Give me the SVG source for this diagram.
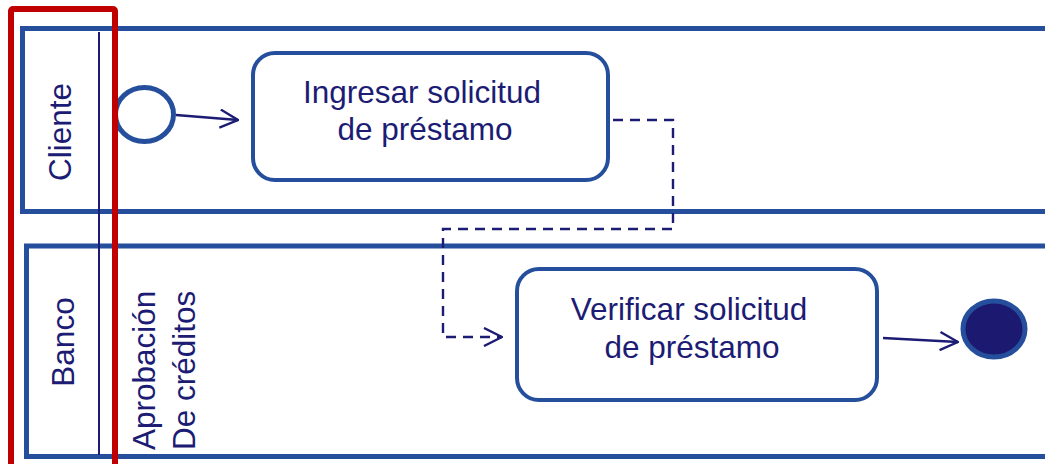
<svg xmlns="http://www.w3.org/2000/svg" width="1045" height="464" viewBox="0 0 1045 464">
<style>
.pool{fill:#ffffff;stroke:#254f9c;stroke-width:5}
.task{fill:#ffffff;stroke:#254f9c;stroke-width:4}
.txt{font-family:"Liberation Sans",Arial,sans-serif;font-size:31.5px;fill:#1c1c74}
.flow{fill:none;stroke:#1c1c74;stroke-width:2.4}
.msg{fill:none;stroke:#1c1c74;stroke-width:2.4;stroke-dasharray:10,7}
</style>
<defs>
<marker id="open" viewBox="0 0 20 20" refX="19" refY="10" markerWidth="20" markerHeight="20" markerUnits="userSpaceOnUse" orient="auto">
<path d="M1,1 L19,10 L1,19" fill="none" stroke="#1c1c74" stroke-width="2.4"/>
</marker>
</defs>
<rect width="1045" height="464" fill="#ffffff"/>
<g id="pool-cliente">
<rect class="pool" x="22.5" y="28.5" width="1040" height="183"/>
<text class="txt" transform="translate(71,132) rotate(-90)" text-anchor="middle">Cliente</text>
</g>
<g id="pool-banco">
<rect class="pool" x="26.5" y="246" width="1040" height="210.5"/>
<text class="txt" transform="translate(74,342) rotate(-90)" text-anchor="middle">Banco</text>
<text class="txt" transform="translate(155,450) rotate(-90)">Aprobación</text>
<text class="txt" transform="translate(195,450) rotate(-90)">De créditos</text>
</g>
<g id="lane-divider">
<line x1="99" y1="32" x2="99" y2="455" stroke="#1c1c74" stroke-width="2"/>
</g>
<g id="start">
<ellipse cx="144.5" cy="114.5" rx="29" ry="27" fill="#ffffff" stroke="#254f9c" stroke-width="5"/>
</g>
<g id="task-ingresar">
<rect class="task" x="253" y="53" width="355" height="127" rx="22"/>
<text class="txt" x="422" y="103" text-anchor="middle">Ingresar solicitud</text>
<text class="txt" x="425" y="140" text-anchor="middle">de préstamo</text>
</g>
<g id="task-verificar">
<rect class="task" x="517" y="269" width="360" height="131" rx="22"/>
<text class="txt" x="689" y="320" text-anchor="middle">Verificar solicitud</text>
<text class="txt" x="692" y="358" text-anchor="middle">de préstamo</text>
</g>
<g id="end">
<ellipse cx="994" cy="329" rx="31" ry="28" fill="#1c1a70" stroke="#254f9c" stroke-width="5"/>
</g>
<g id="connectors">
<path class="flow" d="M176,115 L238,120" marker-end="url(#open)"/>
<path class="msg" d="M613,120 L673,120 L673,229 L443,229 L443,337 L502,337" marker-end="url(#open)"/>
<path class="flow" d="M883,338 L958,342" marker-end="url(#open)"/>
</g>
<g id="highlight">
<rect x="11" y="9" width="104" height="470" rx="2" fill="none" stroke="#c00000" stroke-width="6"/>
</g>
</svg>
